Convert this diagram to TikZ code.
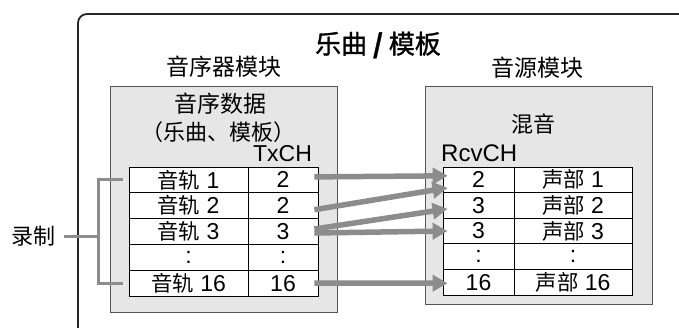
\documentclass[tikz,border=0pt]{standalone}
\usepackage{fontspec}
\setmainfont{Liberation Sans}
\newfontfamily\cjk{Noto Sans CJK SC}
\newfontfamily\cjkm{Noto Sans CJK SC}[FakeBold=1.2]
\newfontfamily\cjkt{Noto Sans CJK SC}[Scale=0.93]
\usetikzlibrary{arrows.meta,calc}
\definecolor{boxgray}{HTML}{E6E6E6}
\definecolor{arrowgray}{HTML}{8C8C8C}
\definecolor{edgegray}{HTML}{555555}
\tikzset{
  cell/.style={draw=black, line width=0.8pt, fill=white, inner sep=0pt,
    minimum height=25.8pt, font=\fontsize{23}{24}\selectfont},
  cellA/.style={cell, minimum width=119pt},
  cellB/.style={cell, minimum width=70pt},
  cellC/.style={cell, minimum width=71pt, minimum height=25.6pt},
  cellD/.style={cell, minimum width=118pt, minimum height=25.6pt},
  graybox/.style={draw=edgegray, line width=0.8pt, fill=boxgray, inner sep=0pt},
  lbl/.style={inner sep=0pt, font=\fontsize{23}{25}\selectfont},
  bigarrow/.style={draw=arrowgray, line width=5.5pt, -{Triangle[length=15pt,width=16pt]}, arrowgray},
  bracket/.style={draw=arrowgray, line width=3pt},
}
\begin{document}
\begin{tikzpicture}[x=1pt,y=-1pt]
\useasboundingbox (0,0) rectangle (679,327);
\fill[white] (0,0) rectangle (679,327);

\node[lbl, font=\fontsize{22}{24}\selectfont] (rec) at (34,236) {\cjk 录制};

% outer frame
\draw[line width=1.8pt, black!85, rounded corners=9pt] (78,332) -- (78,14) -- (685,14);

% titles
\node[lbl, font=\fontsize{26}{28}\selectfont] (title) at (378,45) {\cjkm 乐曲 \textbf{/} 模板};
\node[lbl] (seqmod) at (224,67) {\cjk 音序器模块};
\node[lbl] (tgmod) at (537,68) {\cjk 音源模块};

% gray boxes
\node[graybox, minimum width=227pt, minimum height=226pt] (seq) at (223.5,199) {};
\node[graybox, minimum width=227pt, minimum height=218pt] (tg) at (538.5,195) {};

\node[lbl] (sd1) at (220,104) {\cjk 音序数据};
\node[lbl, font=\fontsize{22}{24}\selectfont] (sd2) at (218,132) {\cjk （乐曲、模板）};
\node[lbl] (tx) at (282.5,154) {TxCH};
\node[lbl, font=\fontsize{22}{24}\selectfont] (mix) at (533,124) {\cjk 混音};
\node[lbl, anchor=west, font=\fontsize{24}{26}\selectfont] (rcv) at (441,153) {RcvCH};

% left table
\node[cellA] (L1a) at (188.5,179.9) {{\cjkt 音轨} 1};
\node[cellB] (L1b) at (283,179.9) {2};
\node[cellA] (L2a) at (188.5,205.7) {{\cjkt 音轨} 2};
\node[cellB] (L2b) at (283,205.7) {2};
\node[cellA] (L3a) at (188.5,231.5) {{\cjkt 音轨} 3};
\node[cellB] (L3b) at (283,231.5) {3};
\node[cellA] (L4a) at (188.5,257.3) {:};
\node[cellB] (L4b) at (283,257.3) {:};
\node[cellA] (L5a) at (188.5,283.1) {{\cjkt 音轨} 16};
\node[cellB] (L5b) at (283,283.1) {16};

% right table
\node[cellC] (R1a) at (478.5,179.8) {2};
\node[cellD] (R1b) at (573,179.8) {{\cjkt 声部} 1};
\node[cellC] (R2a) at (478.5,205.4) {3};
\node[cellD] (R2b) at (573,205.4) {\raisebox{2pt}{{\cjkt 声部} 2}};
\node[cellC] (R3a) at (478.5,231) {3};
\node[cellD] (R3b) at (573,231) {{\cjkt 声部} 3};
\node[cellC] (R4a) at (478.5,256.6) {:};
\node[cellD] (R4b) at (573,256.6) {:};
\node[cellC] (R5a) at (478.5,282.2) {16};
\node[cellD] (R5b) at (573,282.2) {{\cjkt 声部} 16};

% arrows
\draw[bigarrow] ($(L1b.east)+(-4,-3)$) -- ($(R1a.west)+(5,-4)$);
\draw[bigarrow] ($(L2b.east)+(-4,4)$) -- ($(R1a.west)+(5,8)$);
\draw[bigarrow] ($(L3b.east)+(-4,-2.5)$) -- ($(R2a.west)+(5,3.5)$);
\draw[bigarrow] ($(L3b.east)+(-4,1.5)$) -- ($(R3a.west)+(5,0)$);
\draw[bigarrow] ($(L5b.east)+(-4,0)$) -- ($(R5a.west)+(5,1)$);

% bracket
\coordinate (bj) at (98,236);
\draw[bracket] ($(rec.east)+(8,0)$) -- (bj);
\draw[bracket] ($(L1a.west)+(-6,0)$) -- (98,179.9) -- (98,283.1) -- ($(L5a.west)+(-6,0)$);
\end{tikzpicture}
\end{document}
